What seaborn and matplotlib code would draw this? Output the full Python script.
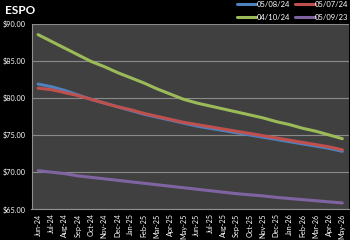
import pandas as pd
import seaborn as sns
import matplotlib.pyplot as plt
from matplotlib.ticker import FixedLocator, FuncFormatter

# Month labels on the category axis
months = ["Jun-24", "Jul-24", "Aug-24", "Sep-24", "Oct-24", "Nov-24", "Dec-24",
          "Jan-25", "Feb-25", "Mar-25", "Apr-25", "May-25", "Jun-25", "Jul-25",
          "Aug-25", "Sep-25", "Oct-25", "Nov-25", "Dec-25", "Jan-26", "Feb-26",
          "Mar-26", "Apr-26", "May-26"]

# Forward curves, one per trade date
curve_050824 = [81.85, 81.5, 81.0, 80.4, 79.8, 79.3, 78.8, 78.3, 77.8, 77.4, 77.0, 76.6,
                76.2, 75.9, 75.6, 75.3, 75.0, 74.7, 74.4, 74.1, 73.8, 73.5, 73.2, 72.8]
curve_050724 = [81.3, 81.1, 80.7, 80.3, 79.8, 79.3, 78.8, 78.4, 77.9, 77.5, 77.1, 76.7,
                76.4, 76.1, 75.8, 75.5, 75.2, 74.9, 74.6, 74.3, 74.0, 73.7, 73.4, 73.0]
curve_041024 = [88.5, 87.6, 86.7, 85.8, 84.9, 84.2, 83.4, 82.7, 82.0, 81.2, 80.5, 79.8,
                79.3, 78.9, 78.5, 78.1, 77.7, 77.3, 76.8, 76.4, 75.9, 75.5, 75.0, 74.5]
curve_050923 = [70.2, 70.0, 69.8, 69.5, 69.3, 69.1, 68.9, 68.7, 68.5, 68.3, 68.1, 67.9,
                67.7, 67.5, 67.3, 67.1, 66.95, 66.8, 66.6, 66.45, 66.3, 66.15, 66.0, 65.85]

series_names = ["05/08/24", "05/07/24", "04/10/24", "05/09/23"]
series_colors = ["#4F81BD", "#C0504D", "#9BBB59", "#8064A2"]

# Build a long table for seaborn
rows = []
for name, vals in zip(series_names, [curve_050824, curve_050724, curve_041024, curve_050923]):
    for i, v in enumerate(vals):
        rows.append({"idx": i, "month": months[i], "price": v, "date": name})
df = pd.DataFrame(rows)

sns.set_style("dark")
plt.rcParams['font.family'] = ['Lato', 'DejaVu Sans']

fig = plt.figure(figsize=(3.5, 2.4), dpi=100, facecolor="black")
ax = fig.add_axes([0.09, 0.128, 0.907, 0.774])
ax.set_facecolor("#404040")

# purple drawn first so the others sit on top, like the original
draw_order = ["05/09/23", "04/10/24", "05/08/24", "05/07/24"]
palette = dict(zip(series_names, series_colors))
for name in draw_order:
    sns.lineplot(data=df[df["date"] == name], x="idx", y="price", color=palette[name],
                 linewidth=2.2, ax=ax, legend=False)

ax.set_xlim(-0.5, len(months) - 0.5)
ax.set_ylim(65, 90)

# y axis with dollar labels and grid
ax.yaxis.set_major_locator(FixedLocator([65, 70, 75, 80, 85, 90]))
ax.yaxis.set_major_formatter(FuncFormatter(lambda v, p: f"${v:.2f}"))
ax.grid(axis="y", color="#8a8a8a", linewidth=0.8)
ax.grid(axis="x", visible=False)

# category axis: labels at the centres, tick marks at the boundaries
ax.set_xticks(range(len(months)))
ax.set_xticklabels(months, rotation=90)
ax.set_xticks([i - 0.5 for i in range(len(months) + 1)], minor=True)
ax.tick_params(axis="x", which="major", length=0, labelsize=5.2, colors="white", pad=3)
ax.tick_params(axis="x", which="minor", length=3, color="#909090", width=0.6)
ax.tick_params(axis="y", length=3, labelsize=5.2, colors="white", color="#909090", width=0.6, pad=1.5)
ax.set_xlabel("")
ax.set_ylabel("")

for side in ["top", "right"]:
    ax.spines[side].set_visible(False)
for side in ["left", "bottom"]:
    ax.spines[side].set_visible(True)
    ax.spines[side].set_color("#909090")
    ax.spines[side].set_linewidth(0.8)

fig.text(0.015, 0.955, "ESPO", color="white", fontsize=8.5, fontweight="bold", va="center")

# legend: two columns, two rows, top right
handles = [plt.Line2D([], [], color=c, linewidth=2.2) for c in series_colors]
order = [0, 2, 1, 3]
leg = fig.legend([handles[i] for i in order], [series_names[i] for i in order],
                 ncol=2, loc="upper right", bbox_to_anchor=(1.015, 1.025), frameon=False,
                 fontsize=5.5, handlelength=2.6, handletextpad=0.0, columnspacing=0.7,
                 labelspacing=0.75, labelcolor="white")

fig.savefig("out.png", dpi=100, facecolor="black")
